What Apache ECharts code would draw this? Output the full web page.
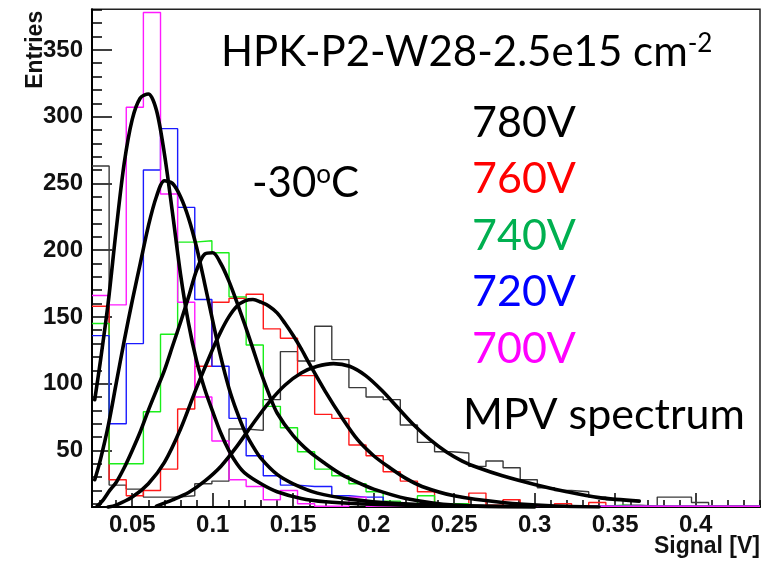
<!DOCTYPE html>
<html>
<head>
<meta charset="utf-8">
<script src="https://cdn.jsdelivr.net/npm/echarts@6/dist/echarts.min.js"></script>
<style>
html,body{margin:0;padding:0;background:#fff;}
#chart{width:763px;height:563px;}
</style>
</head>
<body>
<div id="chart"></div>
<script>
// ---- axis ranges ----
const X_MIN = 0.025, X_MAX = 0.44;
const Y_MIN = 7.6, Y_MAX = 380.4;
const N_BINS = 39;

// ---- tick labels ----
const xMajorTicks = [0.05, 0.1, 0.15, 0.2, 0.25, 0.3, 0.35, 0.4];
const xMinorTicks = [0.03,0.04,0.05,0.06,0.07,0.08,0.09,0.1,0.11,0.12,0.13,0.14,0.15,0.16,0.17,0.18,0.19,0.2,0.21,0.22,0.23,0.24,0.25,0.26,0.27,0.28,0.29,0.3,0.31,0.32,0.33,0.34,0.35,0.36,0.37,0.38,0.39,0.4,0.41,0.42,0.43,0.44];
const yMajorTicks = [50, 100, 150, 200, 250, 300, 350];
const yMinorTicks = [10,20,30,40,50,60,70,80,90,100,110,120,130,140,150,160,170,180,190,200,210,220,230,240,250,260,270,280,290,300,310,320,330,340,350,360,370,380];

// ---- histogram contents (39 bins from 0.025 to 0.44 V) ----
const h780V = [263,24,21,15,15,16,25,27,66,65,88,124,117,143,118,97,90,88,69,56,49,48,38,42,37,28,22,20,19,15,13,9,8,15,15,11,5,4,3];
const h760V = [158,28,16,20,36,81,113,161,164,167,141,134,106,77,74,54,46,34,27,19,10,9,18,9,13,6,5,10,4,11,3,2,1,1,0,0,0,0,0];
const h740V = [145,40,40,79,137,206,207,198,165,129,83,67,49,36,31,25,19,12,10,16,10,10,6,5,9,4,3,2,2,2,9,1,0,0,0,0,0,0,0];
const h720V = [136,70,130,260,291,232,163,113,74,46,31,24,23,23,16,15,15,4,9,9,3,2,1,0,0,0,0,0,0,0,0,0,0,0,0,0,0,0,0];
const h700V = [166,159,307,378,242,161,90,57,28,23,13,20,10,6,5,15,4,3,2,2,1,1,0,0,0,0,0,0,0,0,0,0,0,0,0,0,0,0,0];

// ---- fitted curves as [signal, entries] ----
const fit700V = [[0.0267,88],[0.030,115],[0.035,160],[0.040,215],[0.045,265],[0.050,298],[0.055,314],[0.060,317],[0.065,305],[0.070,272],[0.075,228],[0.080,182],[0.085,145],[0.090,117],[0.095,96],[0.100,79],[0.105,63],[0.110,50],[0.115,40],[0.120,33],[0.130,25],[0.140,19],[0.155,14],[0.170,11.5],[0.190,10],[0.220,9],[0.260,8.2]];
const fit720V = [[0.0267,28],[0.030,42],[0.035,68],[0.040,100],[0.045,132],[0.050,162],[0.055,190],[0.060,218],[0.065,240],[0.070,252],[0.075,250],[0.080,240],[0.085,224],[0.090,202],[0.095,175],[0.100,147],[0.105,120],[0.110,97],[0.115,79],[0.120,64],[0.125,53],[0.130,44],[0.140,32],[0.150,25],[0.165,18],[0.185,13.5],[0.210,10.5],[0.250,8.5],[0.300,7.7]];
const fit740V = [[0.0282,8.3],[0.032,13],[0.036,20],[0.040,26],[0.045,37],[0.050,50],[0.055,64],[0.060,80],[0.065,95],[0.070,110],[0.075,128],[0.080,146],[0.085,165],[0.090,185],[0.095,197],[0.100,198],[0.105,190],[0.110,177],[0.115,161],[0.120,144],[0.125,126],[0.130,108],[0.135,92],[0.140,78],[0.150,61],[0.160,49],[0.170,40],[0.180,32],[0.190,26],[0.200,21],[0.220,14],[0.250,9],[0.300,7.8]];
const fit760V = [[0.035,7.5],[0.040,9],[0.050,15],[0.060,25],[0.070,41],[0.080,66],[0.090,97],[0.100,126],[0.105,139],[0.110,150],[0.115,158],[0.120,162],[0.125,163],[0.130,161],[0.135,158],[0.140,153],[0.145,145],[0.150,136],[0.155,126],[0.160,115],[0.170,94],[0.180,75],[0.190,58],[0.200,46],[0.210,37],[0.220,29],[0.230,23],[0.250,16],[0.280,11],[0.310,8.5],[0.340,7.6]];
const fit780V = [[0.065,8.3],[0.075,13],[0.085,18.5],[0.095,27],[0.105,38],[0.115,53],[0.125,70],[0.135,86],[0.145,99],[0.155,108],[0.165,113],[0.175,115],[0.185,113],[0.195,106],[0.205,95],[0.215,82],[0.225,69],[0.235,58],[0.245,49],[0.255,42],[0.265,37],[0.280,31],[0.300,24.5],[0.320,19],[0.340,14.6],[0.365,12]];

// ---- labels ----
const histLabels = ['780V','760V','740V','720V','700V'];

// ---- build step data (ROOT draws contents below the minimum on the frame) ----
const binWidth = (X_MAX - X_MIN) / N_BINS;
function stepData(vals){
  const floor = Y_MIN + 0.6;
  const pts = vals.map((v,i)=>[X_MIN + i*binWidth, Math.max(v, floor)]);
  pts.push([X_MIN + vals.length*binWidth, Math.max(vals[vals.length-1], floor)]);
  return pts;
}

const histColors = ['#3a3a3a','#ff1a1a','#1aee1a','#1a1aff','#ff1aff'];
const textColors = ['#000000','#ff0000','#00b050','#0000ff','#ff00ff'];
const hists = [h780V,h760V,h740V,h720V,h700V];
const fits = [fit780V,fit760V,fit740V,fit720V,fit700V];

const series = [];
hists.forEach((h,i)=>{
  series.push({
    name: histLabels[i], type:'line', step:'end', data: stepData(h),
    showSymbol:false, symbol:'none', clip:true, z:2,
    lineStyle:{color:histColors[i], width:1.4}, animation:false
  });
});
fits.forEach((f,i)=>{
  series.push({
    name: histLabels[i]+' fit', type:'line', data: f, smooth:0.3,
    showSymbol:false, symbol:'none', clip:true, z:3,
    lineStyle:{color:'#000', width:3.6, join:'round', cap:'round'}, animation:false
  });
});

const labelFont = {fontFamily:'Liberation Sans', fontWeight:'bold', fontSize:24, color:'#111'};
const annotFont = 'Lato';

const chart = echarts.init(document.getElementById('chart'), null, {renderer:'canvas'});
chart.setOption({
  animation:false,
  backgroundColor:'#fff',
  grid:{left:92, right:1.3, top:9.3, bottom:56, show:true, borderColor:'#222', borderWidth:1.5, backgroundColor:'transparent'},
  xAxis:[{
    type:'value', min:X_MIN, max:X_MAX, position:'bottom',
    axisLine:{show:true, onZero:false, lineStyle:{color:'#000', width:2}},
    axisTick:{show:true, inside:true, length:14, customValues:xMajorTicks, lineStyle:{color:'#000', width:1.5}},
    axisLabel:Object.assign({show:true, margin:6, customValues:xMajorTicks}, labelFont),
    splitLine:{show:false},
    name:'Signal [V]', nameLocation:'end', nameGap:0, nameMoveOverlap:false,
    nameTextStyle:Object.assign({align:'right', verticalAlign:'top', padding:[28,0,0,0]}, labelFont, {fontSize:23})
  },{
    type:'value', min:X_MIN, max:X_MAX, position:'bottom',
    axisLine:{show:false, onZero:false},
    axisTick:{show:true, inside:true, length:7, customValues:xMinorTicks, lineStyle:{color:'#000', width:1.5}},
    axisLabel:{show:false}, splitLine:{show:false}
  }],
  yAxis:[{
    type:'value', min:Y_MIN, max:Y_MAX, position:'left',
    axisLine:{show:true, onZero:false, lineStyle:{color:'#000', width:2}},
    axisTick:{show:true, inside:true, length:20, customValues:yMajorTicks, lineStyle:{color:'#000', width:1.5}},
    axisLabel:Object.assign({show:true, margin:9, customValues:yMajorTicks}, labelFont),
    splitLine:{show:false},
    name:'Entries', nameLocation:'end', nameRotate:90, nameGap:-1.5, nameMoveOverlap:false,
    nameTextStyle:Object.assign({align:'right', verticalAlign:'bottom', padding:[0,0,45,0]}, labelFont, {fontSize:23})
  },{
    type:'value', min:Y_MIN, max:Y_MAX, position:'left',
    axisLine:{show:false, onZero:false},
    axisTick:{show:true, inside:true, length:10, customValues:yMinorTicks, lineStyle:{color:'#000', width:1.5}},
    axisLabel:{show:false}, splitLine:{show:false}
  }],
  graphic:[
    {type:'text', x:221, y:52, z:10, style:{
      text:'{m|HPK-P2-W28-2.5e15 cm}{s|-2}', verticalAlign:'middle',
      rich:{m:{fontFamily:annotFont, fontSize:42, fill:'#000', verticalAlign:'bottom'},
            s:{fontFamily:annotFont, fontSize:26, fill:'#000', verticalAlign:'top'}}}},
    {type:'text', x:472, y:123, z:10, style:{text:histLabels[0], fontFamily:annotFont, fontSize:43, fill:textColors[0], verticalAlign:'middle'}},
    {type:'text', x:472, y:179, z:10, style:{text:histLabels[1], fontFamily:annotFont, fontSize:43, fill:textColors[1], verticalAlign:'middle'}},
    {type:'text', x:472, y:236, z:10, style:{text:histLabels[2], fontFamily:annotFont, fontSize:43, fill:textColors[2], verticalAlign:'middle'}},
    {type:'text', x:472, y:292, z:10, style:{text:histLabels[3], fontFamily:annotFont, fontSize:43, fill:textColors[3], verticalAlign:'middle'}},
    {type:'text', x:472, y:349, z:10, style:{text:histLabels[4], fontFamily:annotFont, fontSize:43, fill:textColors[4], verticalAlign:'middle'}},
    {type:'text', x:252, y:183, z:10, style:{
      text:'{m|-30}{s|o}{m|C}', verticalAlign:'middle',
      rich:{m:{fontFamily:annotFont, fontSize:42, fill:'#000', verticalAlign:'bottom'},
            s:{fontFamily:annotFont, fontSize:26, fill:'#000', verticalAlign:'top'}}}},
    {type:'text', x:463, y:415, z:10, style:{text:'MPV spectrum', fontFamily:annotFont, fontSize:43, fill:'#000', verticalAlign:'middle'}}
  ],
  series: series
});
</script>
</body>
</html>
